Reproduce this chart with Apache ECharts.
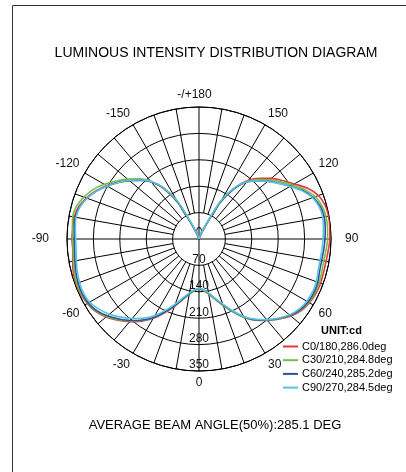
<!DOCTYPE html>
<html><head><meta charset="utf-8">
<script src="https://cdn.jsdelivr.net/npm/echarts@6/dist/echarts.min.js"></script>
<style>html,body{margin:0;padding:0;background:#fff}#c{width:406px;height:472px}</style>
</head><body><div id="c"></div>
<script>
const FONT = '"Liberation Sans", Arial, sans-serif';
const angles = [-180,-175,-170,-165,-160,-155,-150,-145,-140,-135,-130,-125,-120,-115,-110,-105,-100,-95,-90,-85,-80,-75,-70,-65,-60,-55,-50,-45,-40,-35,-30,-25,-20,-15,-10,-5,
  0,5,10,15,20,25,30,35,40,45,50,55,60,65,70,75,80,85,90,95,100,105,110,115,120,125,130,135,140,145,150,155,160,165,170,175,180];
const seriesNames = ['C0/180,286.0deg','C30/210,284.8deg','C60/240,285.2deg','C90/270,284.5deg'];
const seriesColors = ['#e8363a','#72bf4a','#2d4f9e','#5ac4df'];
const c0 = [0,1,2,4,8,30,110,163,198,222,242,262,283,302,318,330,336,336,337,336,340,345,347,346,342,335,322,305,286,266,243,216,190,166,148,137,
  133,137,148,165,187,213,240,263,282,300,318,331,338,342,343,342,342,344,347,348,349,346,337,318,292,270,250,228,203,165,110,30,8,4,2,1,0];
const c30 = [0,1,2,4,9,32,112,166,201,226,247,268,290,310,325,336,340,337,335,335,338,342,345,344,340,333,320,303,284,264,241,214,188,165,148,137,
  133,137,148,165,187,213,240,262,281,299,316,329,336,339,339,337,336,338,341,342,342,338,328,310,286,264,244,223,200,165,112,32,9,4,2,1,0];
const c60 = [0,1,2,4,10,35,115,166,198,220,240,261,281,300,316,328,333,332,331,331,334,338,341,342,339,331,317,300,282,262,240,213,187,164,147,136,
  132,136,146,163,185,211,238,261,280,298,315,327,334,336,335,331,330,332,334,336,337,333,322,304,280,258,238,218,197,165,115,35,10,4,2,1,0];
const c90 = [0,1,2,5,12,40,120,168,199,221,241,261,281,300,316,327,331,329,327,327,330,334,337,338,335,324,310,293,275,256,234,208,183,161,145,135,
  131,135,145,162,184,210,237,260,279,297,313,324,330,332,331,327,326,327,329,331,333,330,320,302,279,257,237,218,198,168,120,40,12,5,2,1,0];
const seriesValues = [c0, c30, c60, c90];
const radialMax = 350, radialStep = 70, angleStep = 30;

const CX = 199, CY = 239, R = 132, R0 = R * radialStep / radialMax;
const chart = echarts.init(document.getElementById('c'), null, {renderer: 'canvas'});
const black = '#000';
function angLabel(v) {
  if (v === 360) return '';
  if (v === 180) return '{t|-/+180}';
  if (v === 90) return '{r|90}';
  if (v === 270) return '{l|-90}';
  return String(v > 180 ? v - 360 : v);
}
const option = {
  animation: false,
  backgroundColor: '#fff',
  polar: [
    {center: [CX, CY], radius: [0, R]},
    {center: [CX, CY], radius: [R0, R]},
    {center: [CX, CY], radius: [0, R0]}
  ],
  angleAxis: [
    {polarIndex: 0, type: 'value', min: 0, max: 360, interval: angleStep, startAngle: 270, clockwise: false,
      axisLine: {show: true, lineStyle: {color: black, width: 1}}, axisTick: {show: false}, splitLine: {show: false},
      axisLabel: {show: true, margin: 6, color: '#111', fontSize: 12, fontFamily: FONT, formatter: angLabel,
        rich: {t: {fontSize: 12, fontFamily: FONT, color: '#111', padding: [0, 9, 0, 0]},
               r: {fontSize: 12, fontFamily: FONT, color: '#111', padding: [0, 0, 0, 8]},
               l: {fontSize: 12, fontFamily: FONT, color: '#111', padding: [0, 12, 0, 0]}}}},
    {polarIndex: 1, type: 'value', min: 0, max: 360, interval: 10, startAngle: 270, clockwise: false,
      axisLine: {show: false}, axisTick: {show: false}, axisLabel: {show: false},
      splitLine: {show: true, lineStyle: {color: black, width: 1}}},
    {polarIndex: 2, type: 'value', min: 0, max: 360, interval: 90, startAngle: 270, clockwise: false,
      axisLine: {show: false}, axisTick: {show: false}, axisLabel: {show: false},
      splitLine: {show: true, lineStyle: {color: black, width: 1}}}
  ],
  radiusAxis: [
    {polarIndex: 0, type: 'value', min: 0, max: radialMax, interval: radialStep,
      axisLine: {show: false}, axisTick: {show: false},
      splitLine: {show: true, lineStyle: {color: black, width: 1}},
      axisLabel: {show: true, margin: 0, align: 'center', verticalAlign: 'bottom', color: '#111', fontSize: 12, fontFamily: FONT}},
    {polarIndex: 1, type: 'value', min: 0, max: 1, show: false},
    {polarIndex: 2, type: 'value', min: 0, max: 1, show: false}
  ],
  legend: {
    orient: 'vertical', left: 283, top: 341, itemWidth: 15, itemHeight: 2, itemGap: 2.7, padding: 0,
    icon: 'rect', data: seriesNames,
    textStyle: {fontSize: 11, fontFamily: FONT, color: '#000', padding: [0, 0, 0, -1]}
  },
  graphic: [
    {type: 'rect', shape: {x: 12.5, y: 5.5, width: 420, height: 500}, style: {fill: null, stroke: '#333', lineWidth: 1}, silent: true},
    {type: 'text', x: 216, y: 53, style: {text: 'LUMINOUS INTENSITY DISTRIBUTION DIAGRAM', font: '14px ' + FONT, fill: '#000', align: 'center', verticalAlign: 'middle'}},
    {type: 'text', x: 321, y: 331, style: {text: 'UNIT:cd', font: 'bold 11px ' + FONT, fill: '#000', align: 'left', verticalAlign: 'middle'}},
    {type: 'text', x: 215, y: 425, style: {text: 'AVERAGE BEAM ANGLE(50%):285.1 DEG', font: '13px ' + FONT, fill: '#000', align: 'center', verticalAlign: 'middle'}}
  ],
  series: seriesValues.map((vals, i) => ({
    type: 'line', name: seriesNames[i], coordinateSystem: 'polar', polarIndex: 0,
    symbol: 'none', smooth: 0.3, z: 5 + i,
    lineStyle: {color: seriesColors[i], width: 1.6},
    itemStyle: {color: seriesColors[i]},
    data: vals.map((v, k) => [v, angles[k] < 0 ? angles[k] + 360 : angles[k]])
  }))
};
chart.setOption(option);
</script></body></html>
